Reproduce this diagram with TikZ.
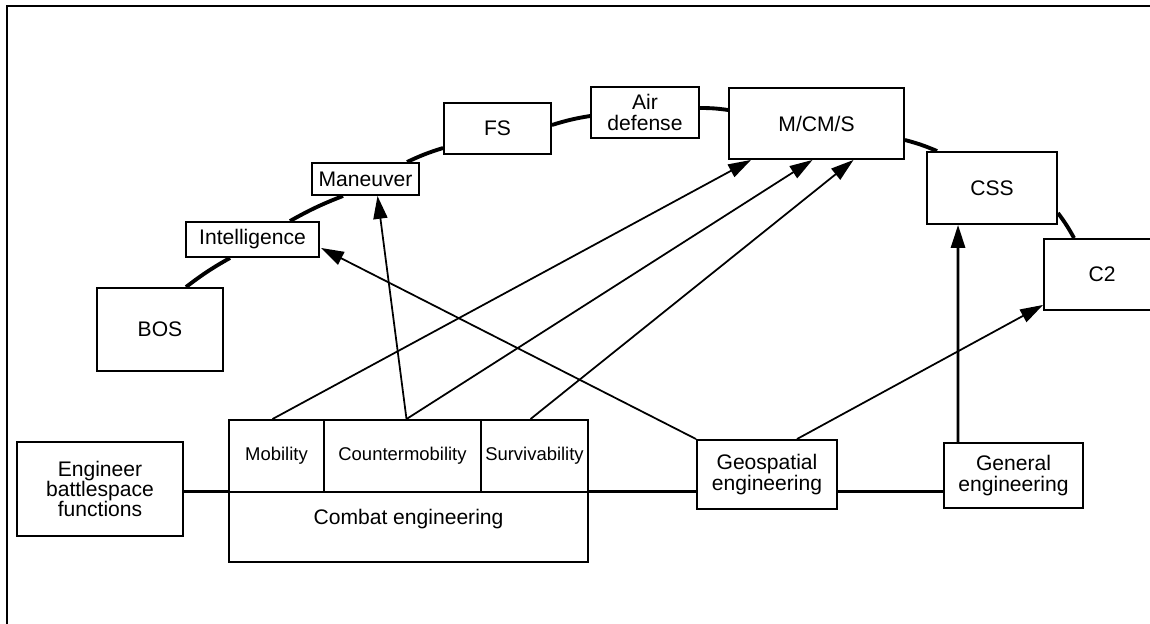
\documentclass[tikz,border=0pt]{standalone}
\usepackage{fontspec}
\setmainfont{Liberation Sans}
\usetikzlibrary{arrows.meta,calc,positioning}
\pgfdeclarelayer{bg}
\pgfsetlayers{bg,main}
\tikzset{
    every node/.style={rectangle, draw, fill=white, line width=1.1pt, inner sep=0mm, align=center, font=\fontsize{12}{11.6}\selectfont}
}
\tikzset{small/.style={font=\fontsize{10.5}{12}\selectfont}}
\tikzset{ring/.style={line width=2.2pt}, link/.style={line width=1.7pt}}
\tikzset{feed/.style={line width=1pt, -{Triangle[length=13pt,width=8pt]}}}

\begin{document}
\begin{tikzpicture}[x=0.02cm, y=-0.02cm]
        \useasboundingbox (0,0) rectangle (1150,624);
        \draw[line width=1.3pt] (7,6) rectangle (1170,650);
        % the ring
        \node (bos) [minimum width=2.52cm, minimum height=1.66cm] at (160, 329.5) {BOS};
        \node (intel) [minimum width=2.66cm, minimum height=0.70cm] at (252.5, 239.5) {Intelligence};
        \node (man) [minimum width=2.14cm, minimum height=0.64cm] at (365.5, 179) {Maneuver};
        \node (fs) [minimum width=2.14cm, minimum height=1.02cm] at (497.5, 128.5) {FS};
        \node (ad) [minimum width=2.16cm, minimum height=1.02cm] at (645, 112.5) {Air\\defense};
        \node (mcms) [minimum width=3.50cm, minimum height=1.42cm] at (816.5, 123.5) {M/CM/S};
        \node (css) [minimum width=2.60cm, minimum height=1.44cm] at (992, 188) {CSS};
        \node (ctwo) [minimum width=2.32cm, minimum height=1.42cm] at (1102, 274.5) {C2};
        % the functions
        \node (ebf) [minimum width=3.32cm, minimum height=1.88cm] at (100, 489) {Engineer\\battlespace\\functions};
        \node (mob) [small, minimum width=1.90cm, minimum height=1.44cm] at (276.5, 456) {Mobility};
        \node (cmob) [small, minimum width=3.14cm, minimum height=1.44cm] at (402.5, 456) {Countermobility};
        \node (surv) [small, minimum width=2.14cm, minimum height=1.44cm] at (534.5, 456) {Survivability};
        \node (combat) [minimum width=7.18cm, text height=0.66cm, text depth=0.74cm] at (408.5, 527) {Combat engineering};
        \node (geo) [minimum width=2.80cm, minimum height=1.38cm] at (767, 474.5) {Geospatial\\engineering};
        \node (gen) [minimum width=2.78cm, minimum height=1.30cm] at (1013.5, 475.5) {General\\engineering};
        \begin{pgfonlayer}{bg}
                \draw ($(bos.north)+(26,0)$) edge [ring, bend left=4] ($(intel.south)+(-22.5,0)$);
                \draw ($(intel.north)+(37.5,0)$) edge [ring, bend left=4] ($(man.south)+(-22.5,0)$);
                \draw ($(man.north)+(41.5,0)$) edge [ring, bend left=4] ($(fs.west)+(0,19.5)$);
                \draw ($(fs.east)+(0,-3.5)$) edge [ring, bend left=4] ($(ad.west)+(0,3.5)$);
                \draw ($(ad.east)+(0,-4.5)$) edge [ring, bend left=4] ($(mcms.west)+(0,-13.5)$);
                \draw ($(mcms.east)+(0,16.5)$) edge [ring, bend left=4] ($(css.north west)+(11,0)$);
                \draw ($(css.east)+(0,25)$) edge [ring, bend left=4] ($(ctwo.north west)+(31,0)$);
                \draw (combat.north west -| ebf.east) edge [link] (combat.north west);
                \draw (combat.north east) edge [link] (combat.north east -| geo.west);
                \draw (geo.east |- combat.north east) edge [link] (gen.west |- combat.north east);
                \draw ($(mob.north)+(-4,0)$) edge [feed] ($(mcms.south west)+(23,0)$);
                \draw ($(cmob.north)+(4,0)$) edge [feed] ($(man.south)+(12,0)$);
                \draw ($(cmob.north)+(4,0)$) edge [feed] ($(mcms.south)+(-4,0)$);
                \draw ($(surv.north)+(-4,0)$) edge [feed] ($(mcms.south)+(37,0)$);
                \draw (geo.north west) edge [feed] ($(intel.south east)+(1,-10)$);
                \draw ($(geo.north)+(30,0)$) edge [feed] ($(ctwo.south west)+(0,-6)$);
                \draw ($(gen.north west)+(15,0)$) edge [feed, line width=1.5pt] ($(css.south west)+(32,0)$);
        \end{pgfonlayer}
\end{tikzpicture}
\end{document}
